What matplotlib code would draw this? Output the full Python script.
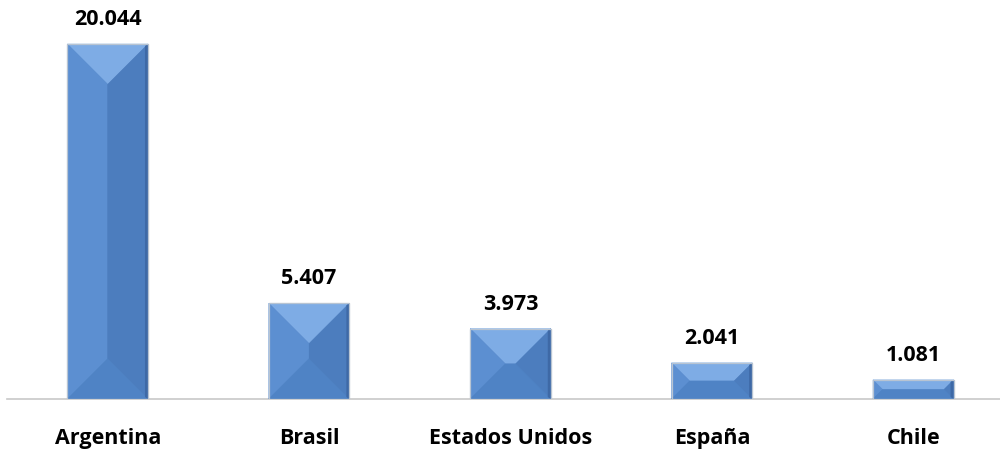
import matplotlib
matplotlib.use('Agg')
import matplotlib.pyplot as plt
from matplotlib.patches import Polygon
from matplotlib.transforms import IdentityTransform

paises = ['Argentina', 'Brasil', 'Estados Unidos', 'España', 'Chile']
valores = [20044, 5407, 3973, 2041, 1081]
etiquetas = ['20.044', '5.407', '3.973', '2.041', '1.081']

plt.rcParams['font.family'] = ['Open Sans', 'DejaVu Sans']
tam = 15.5

fig = plt.figure(figsize=(10, 4.5), dpi=100)
ax = fig.add_axes([0.007, 0.1133, 1.007, 0.8867])
ax.set_xlim(-0.5, len(paises) - 0.5)
ax.set_ylim(0, 22528)

ancho = 0.4
barras = ax.bar(range(len(paises)), valores, width=ancho, color='#4F81BD',
                edgecolor='#C8CED6', linewidth=0.8, zorder=2)

# caras del bisel, calculadas en pixeles a partir de cada barra
fig.canvas.draw()
for b in barras:
    (x0, y0), (x1, y1) = ax.transData.transform(
        [(b.get_x(), 0), (b.get_x() + b.get_width(), b.get_height())])
    d = min(x1 - x0, y1 - y0) / 2
    ix0, ix1, iy0, iy1 = x0 + d, x1 - d, y0 + d, y1 - d
    caras = [
        ([(x0, y1), (x1, y1), (ix1, iy1), (ix0, iy1)], '#7EACE5'),  # arriba
        ([(x0, y0), (x0, y1), (ix0, iy1), (ix0, iy0)], '#5C8FD1'),  # izquierda
        ([(x1, y0), (x1, y1), (ix1, iy1), (ix1, iy0)], '#4C7DBE'),  # derecha
        ([(x0, y0), (x1, y0), (ix1, iy0), (ix0, iy0)], '#4F83C5'),  # abajo
    ]
    for pts, c in caras:
        ax.add_patch(Polygon(pts, closed=True, facecolor=c, edgecolor=c,
                             linewidth=0.3, transform=IdentityTransform(), zorder=3))
    # filo oscuro a la derecha y borde claro
    ax.add_patch(Polygon([(x1 - 3, y0 + 2), (x1 - 3, y1 - 2), (x1, y1), (x1, y0)],
                         closed=True, facecolor='#3E69A6', edgecolor='none',
                         transform=IdentityTransform(), zorder=3))
    ax.add_patch(Polygon([(x0, y0), (x0, y1), (x1, y1), (x1, y0)], closed=True,
                         fill=False, edgecolor='#B8C4D2', linewidth=0.9,
                         transform=IdentityTransform(), zorder=4))

for i, (v, t) in enumerate(zip(valores, etiquetas)):
    ax.annotate(t, (i, v), xytext=(0, 10), textcoords='offset points',
                ha='center', va='bottom', fontsize=tam, fontweight='bold')

ax.set_xticks(range(len(paises)))
ax.set_xticklabels(paises, fontsize=tam, fontweight='bold')
ax.tick_params(axis='x', length=0, pad=21)
ax.set_yticks([])
for s in ['top', 'left', 'right']:
    ax.spines[s].set_visible(False)
ax.spines['bottom'].set_color('#C8C8C8')
ax.spines['bottom'].set_linewidth(1.2)
ax.patch.set_alpha(0)

fig.savefig('out.png', dpi=100)
